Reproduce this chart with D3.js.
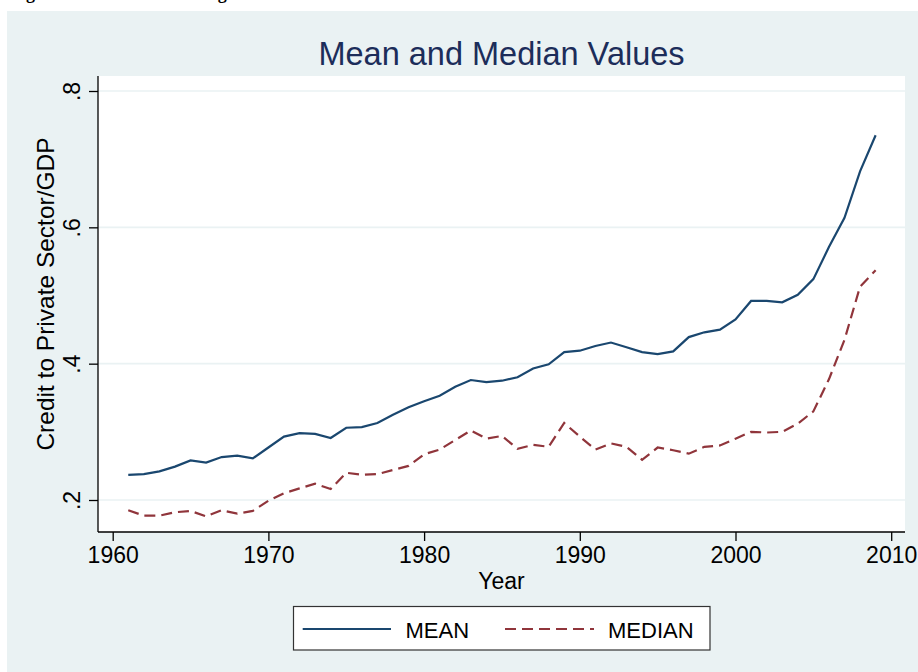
<!DOCTYPE html>
<html>
<head>
<meta charset="utf-8">
<script src="https://cdn.jsdelivr.net/npm/d3@7"></script>
<style>
  body { margin: 0; background: #ffffff; }
  #chart_id { width: 918px; height: 672px; }
  text { font-family: "Liberation Sans", Arial, sans-serif; }
</style>
</head>
<body>
<div id="chart_id"></div>
<script>
// data
var years = [1961, 1962, 1963, 1964, 1965, 1966, 1967, 1968, 1969, 1970,
             1971, 1972, 1973, 1974, 1975, 1976, 1977, 1978, 1979, 1980,
             1981, 1982, 1983, 1984, 1985, 1986, 1987, 1988, 1989, 1990,
             1991, 1992, 1993, 1994, 1995, 1996, 1997, 1998, 1999, 2000,
             2001, 2002, 2003, 2004, 2005, 2006, 2007, 2008, 2009];
var meanValues = [0.237, 0.238, 0.242, 0.249, 0.258, 0.255, 0.263, 0.265, 0.261, 0.277,
                  0.293, 0.298, 0.297, 0.291, 0.306, 0.307, 0.313, 0.325, 0.336, 0.345,
                  0.353, 0.366, 0.376, 0.373, 0.375, 0.380, 0.393, 0.399, 0.417, 0.419,
                  0.426, 0.431, 0.424, 0.417, 0.414, 0.418, 0.439, 0.446, 0.450, 0.465,
                  0.492, 0.492, 0.490, 0.501, 0.524, 0.571, 0.614, 0.682, 0.735];
var medianValues = [0.185, 0.177, 0.177, 0.182, 0.184, 0.176, 0.185, 0.180, 0.184, 0.199,
                    0.210, 0.217, 0.224, 0.216, 0.240, 0.237, 0.238, 0.244, 0.250, 0.267,
                    0.274, 0.288, 0.302, 0.290, 0.294, 0.275, 0.281, 0.278, 0.313, 0.293,
                    0.274, 0.283, 0.278, 0.259, 0.277, 0.273, 0.268, 0.278, 0.280, 0.290,
                    0.300, 0.299, 0.300, 0.312, 0.330, 0.377, 0.435, 0.513, 0.537];
var xTicks = [1960, 1970, 1980, 1990, 2000, 2010];
var yTicks = [0.2, 0.4, 0.6, 0.8];
var yTickLabels = [".2", ".4", ".6", ".8"];
var seriesNames = ["MEAN", "MEDIAN"];

var width = 918, height = 672;
var plot = { left: 98, right: 905, top: 76, bottom: 532 };

var svg = d3.select("#chart_id").append("svg")
    .attr("width", width).attr("height", height)

// caption line of the page, cut off at the top edge
svg.append("text")
    .attr("x", 10).attr("y", -1)
    .style("font-family", "'Liberation Serif', 'Times New Roman', serif")
    .style("font-weight", "bold")
    .style("font-size", "18px")
    .attr("fill", "#000")
    .text("Figure 1: Trends in Banking")

// graph region background (stata style)
svg.append("rect")
    .attr("x", 7).attr("y", 11)
    .attr("width", width - 7).attr("height", height - 11)
    .attr("fill", "#eaf2f3")

// plot region
svg.append("rect")
    .attr("x", plot.left).attr("y", plot.top)
    .attr("width", plot.right - plot.left).attr("height", plot.bottom - plot.top)
    .attr("fill", "#ffffff")

var x = d3.scaleLinear().domain([1960, 2010]).range([112.7, 891.2]);
var y = d3.scaleLinear().domain([0.2, 0.8]).range([500, 91]);

// grid lines
svg.append("g").selectAll("line")
    .data(yTicks)
    .enter()
    .append("line")
    .attr("x1", plot.left).attr("x2", plot.right)
    .attr("y1", function(d) { return y(d); })
    .attr("y2", function(d) { return y(d); })
    .style("stroke", "#eaf2f3")
    .style("stroke-width", "1.6px")

// title
svg.append("text")
    .attr("x", (plot.left + plot.right) / 2).attr("y", 65)
    .attr("text-anchor", "middle")
    .style("font-size", "32.5px")
    .attr("fill", "#1c2d5a")
    .text("Mean and Median Values")

// y axis
var yAxis = svg.append("g")
    .attr("transform", "translate(" + plot.left + ",0)")
    .call(d3.axisLeft(y).tickValues(yTicks)
        .tickFormat(function(d, i) { return yTickLabels[i]; })
        .tickSize(9).tickPadding(0))
yAxis.select(".domain").attr("d", "M0," + plot.top + "V" + plot.bottom)
    .style("stroke", "#000").style("stroke-width", "1.3px")
yAxis.selectAll(".tick line").style("stroke", "#000").style("stroke-width", "1.3px")
yAxis.selectAll(".tick text")
    .attr("x", 0).attr("dy", 0)
    .attr("transform", "translate(-18,0) rotate(-90)")
    .attr("text-anchor", "middle")
    .style("font-size", "23px")
    .style("font-family", "'Liberation Sans', Arial, sans-serif")
    .attr("fill", "#000")

// x axis
var xAxis = svg.append("g")
    .attr("transform", "translate(0," + plot.bottom + ")")
    .call(d3.axisBottom(x).tickValues(xTicks).tickFormat(d3.format("d"))
        .tickSize(9).tickPadding(6))
xAxis.select(".domain").attr("d", "M" + plot.left + ",0H" + plot.right)
    .style("stroke", "#000").style("stroke-width", "1.3px")
xAxis.selectAll(".tick line").style("stroke", "#000").style("stroke-width", "1.3px")
xAxis.selectAll(".tick text")
    .style("font-size", "23px")
    .style("font-family", "'Liberation Sans', Arial, sans-serif")
    .attr("fill", "#000")

// axis titles
svg.append("text")
    .attr("x", (plot.left + plot.right) / 2).attr("y", 589)
    .attr("text-anchor", "middle")
    .style("font-size", "23px")
    .attr("fill", "#000")
    .text("Year")

svg.append("text")
    .attr("transform", "translate(54," + 294 + ") rotate(-90)")
    .attr("text-anchor", "middle")
    .style("font-size", "24.5px")
    .attr("fill", "#000")
    .text("Credit to Private Sector/GDP")

// lines
var line = d3.line()
    .x(function(d) { return x(d[0]); })
    .y(function(d) { return y(d[1]); });

var colors = ["#1a476f", "#90353b"];
var dashes = [null, "11,6"];
var seriesValues = [meanValues, medianValues];

seriesValues.forEach(function(vals, k) {
    svg.append("path")
        .datum(years.map(function(yr, i) { return [yr, vals[i]]; }))
        .attr("d", line)
        .style("fill", "none")
        .style("stroke", colors[k])
        .style("stroke-width", "2.2px")
        .style("stroke-dasharray", dashes[k])
})

// legend
svg.append("rect")
    .attr("x", 293.5).attr("y", 606.5)
    .attr("width", 416.5).attr("height", 43.5)
    .attr("fill", "#fff")
    .style("stroke", "#333")
    .style("stroke-width", "1.2px")

var legendItems = [
    { sx: 302.7, ex: 391, tx: 405.5 },
    { sx: 505, ex: 594, tx: 608 }
];
legendItems.forEach(function(it, k) {
    svg.append("line")
        .attr("x1", it.sx).attr("x2", it.ex)
        .attr("y1", 629).attr("y2", 629)
        .style("stroke", colors[k])
        .style("stroke-width", "2.2px")
        .style("stroke-dasharray", dashes[k])
    svg.append("text")
        .attr("x", it.tx).attr("y", 637.5)
        .style("font-size", "22px")
        .attr("fill", "#000")
        .text(seriesNames[k])
})
</script>
</body>
</html>
